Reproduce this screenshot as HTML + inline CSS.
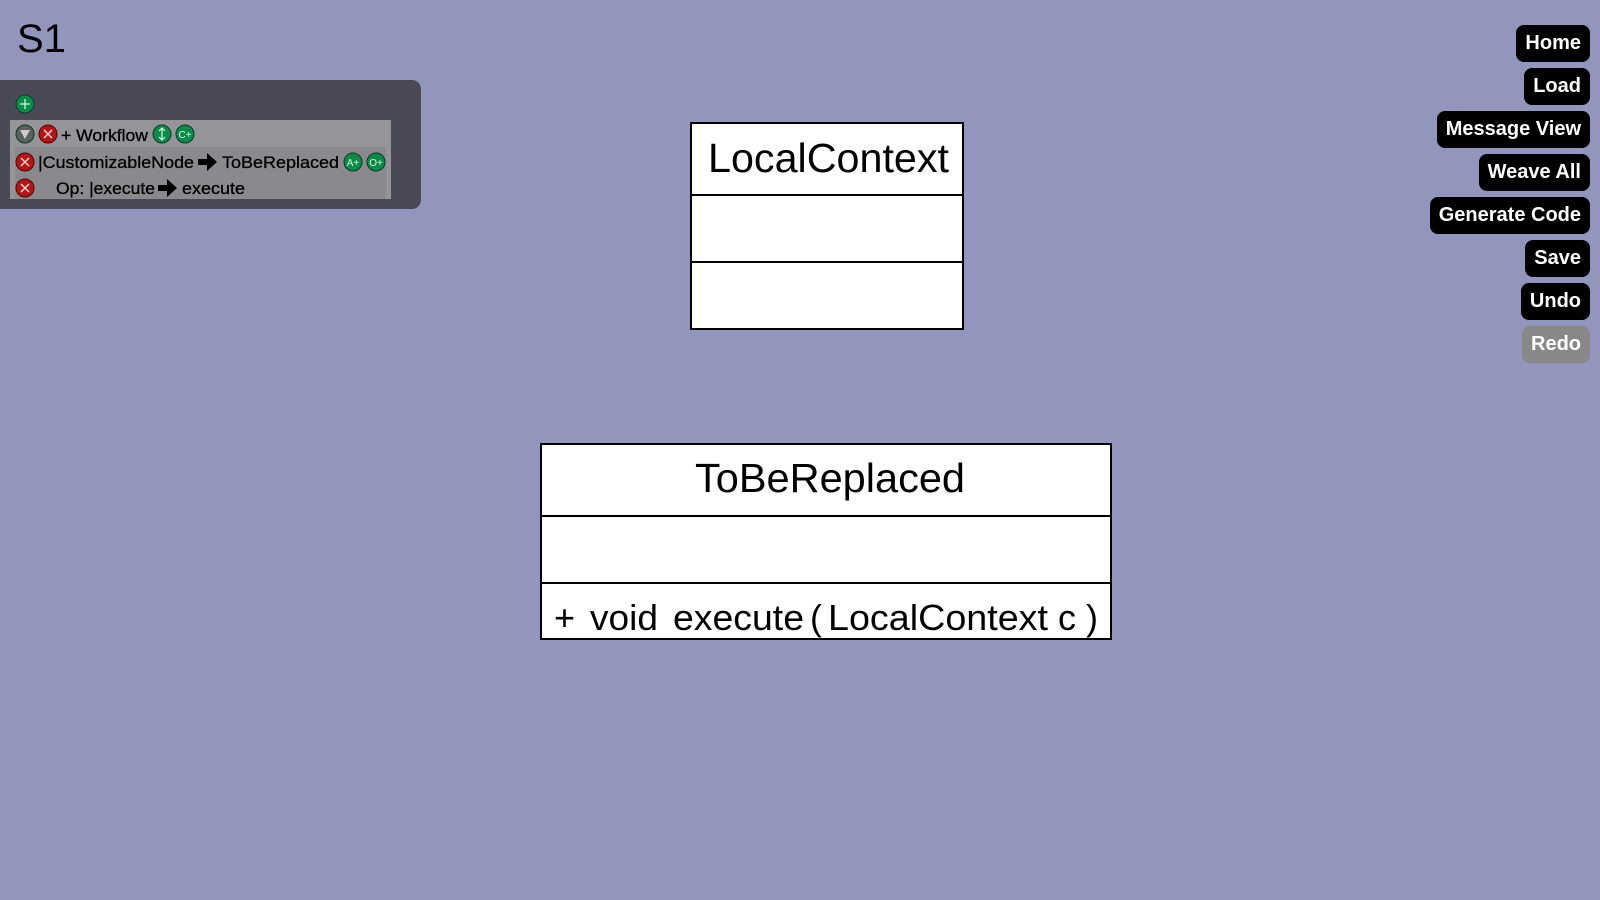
<!DOCTYPE html>
<html><head><meta charset="utf-8"><style>
html,body{margin:0;padding:0;width:1600px;height:900px;overflow:hidden;background:#9296bd;font-family:"Liberation Sans",Arial,sans-serif}
.btn{position:absolute;right:10px;height:37px;line-height:37px;background:#000;color:#fff;border-radius:8px;padding:0 9px;font-weight:bold;font-size:20px;box-sizing:border-box}
</style></head><body>
<svg width="1600" height="900" style="position:absolute;left:0;top:0" font-family="Liberation Sans, Arial, sans-serif">
<text x="17" y="52" font-size="40" fill="#000">S1</text>
<rect x="-10" y="80" width="431" height="129" rx="9" fill="#4a4a57"/>
<rect x="10" y="120" width="381" height="79" fill="#959499"/>
<rect x="15" y="147" width="371" height="52" fill="#8a8a8e"/>
<g stroke="#0b3a22" stroke-width="1">
<circle cx="25" cy="104" r="9" fill="#0d8a4a"/>
<circle cx="25" cy="134" r="9" fill="#5a625e"/>
<circle cx="48" cy="134" r="9" fill="#b01818" stroke="#500"/>
<circle cx="162" cy="134" r="9" fill="#0d8a4a"/>
<circle cx="185" cy="134" r="9" fill="#0d8a4a"/>
<circle cx="25" cy="162" r="9" fill="#b01818" stroke="#500"/>
<circle cx="353" cy="162" r="9" fill="#0d8a4a"/>
<circle cx="376" cy="162" r="9" fill="#0d8a4a"/>
<circle cx="25" cy="188" r="9" fill="#b01818" stroke="#500"/>
</g>
<g stroke="#cfd" stroke-width="1.2" fill="none">
<path d="M25 99v10M20 104h10"/>
<path d="M162 128v12M159 131l3-3 3 3M159 137l3 3 3-3"/>
</g>
<path d="M20 130h10l-5 9z" fill="#ccc"/>
<g stroke="#fcc" stroke-width="1.5"><path d="M44 130l8 8M52 130l-8 8M21 158l8 8M29 158l-8 8M21 184l8 8M29 184l-8 8"/></g>
<g font-size="10" fill="#cfd" text-anchor="middle"><text x="185" y="138">C+</text><text x="353" y="166">A+</text><text x="376" y="166">O+</text></g>
<g font-size="17" fill="#000" stroke="#000" stroke-width="0.3">
<text x="61" y="141" textLength="87" lengthAdjust="spacingAndGlyphs">+ Workflow</text>
<text x="38" y="168" textLength="156" lengthAdjust="spacingAndGlyphs">|CustomizableNode</text>
<text x="222" y="168" textLength="117" lengthAdjust="spacingAndGlyphs">ToBeReplaced</text>
<text x="56" y="194" textLength="99" lengthAdjust="spacingAndGlyphs">Op: |execute</text>
<text x="182" y="194" textLength="63" lengthAdjust="spacingAndGlyphs">execute</text>
</g>
<path d="M198 159h9v-6l10 9-10 9v-6h-9z" fill="#000"/>
<path d="M158 185h9v-6l10 9-10 9v-6h-9z" fill="#000"/>
<g fill="#fff" stroke="#000" stroke-width="2">
<rect x="691" y="123" width="272" height="206"/>
<line x1="691" y1="195" x2="963" y2="195"/><line x1="691" y1="262" x2="963" y2="262"/>
<rect x="541" y="444" width="570" height="195"/>
<line x1="541" y1="516" x2="1111" y2="516"/><line x1="541" y1="583" x2="1111" y2="583"/>
</g>
<g fill="#000" font-size="41">
<text x="708" y="172" textLength="241" lengthAdjust="spacingAndGlyphs">LocalContext</text>
<text x="695" y="492" textLength="270" lengthAdjust="spacingAndGlyphs">ToBeReplaced</text>
</g>
<g fill="#000" font-size="36">
<text x="554" y="630">+</text>
<text x="590" y="630" textLength="68" lengthAdjust="spacingAndGlyphs">void</text>
<text x="673" y="630" textLength="131" lengthAdjust="spacingAndGlyphs">execute</text>
<text x="810" y="630">(</text>
<text x="828" y="630" textLength="220" lengthAdjust="spacingAndGlyphs">LocalContext</text>
<text x="1058" y="630">c</text>
<text x="1086" y="630">)</text>
</g>
</svg>
<div class="btn" style="top:25px">Home</div>
<div class="btn" style="top:68px">Load</div>
<div class="btn" style="top:111px">Message View</div>
<div class="btn" style="top:154px">Weave All</div>
<div class="btn" style="top:197px">Generate Code</div>
<div class="btn" style="top:240px">Save</div>
<div class="btn" style="top:283px">Undo</div>
<div class="btn" style="top:326px;background:#888">Redo</div>
</body></html>
